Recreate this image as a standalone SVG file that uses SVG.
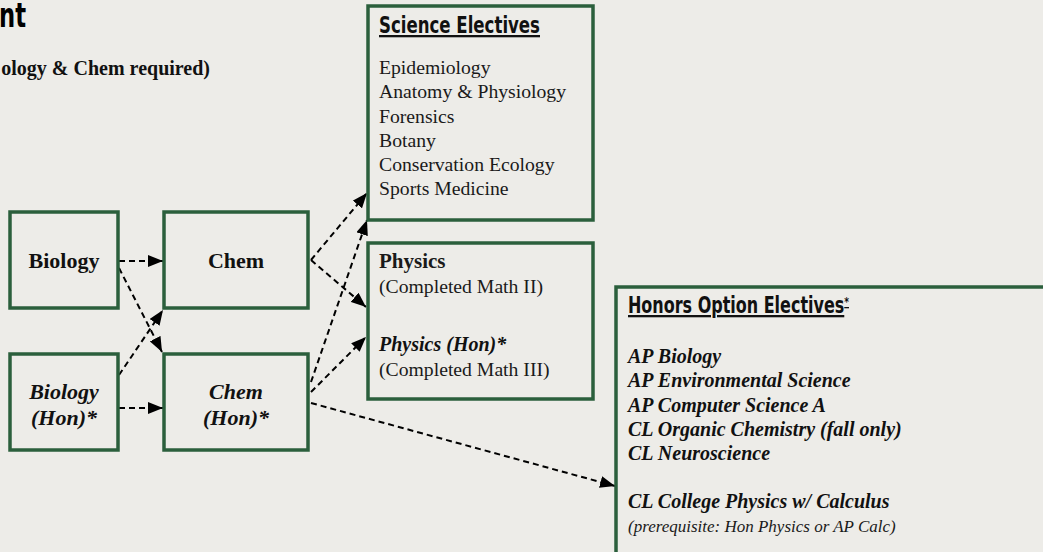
<svg xmlns="http://www.w3.org/2000/svg" width="1043" height="552" viewBox="0 0 1043 552">
<defs>
<style>
.box{fill:none;stroke:#2b5f3c;stroke-width:3.5}
.lbl{font-family:"Liberation Serif",serif;font-weight:bold;font-size:22px;fill:#111}
.it{font-style:italic}
.hdr{font-family:"DejaVu Sans Condensed","Liberation Sans",sans-serif;font-weight:bold;font-size:23px;fill:#111;text-decoration:underline}
.item{font-family:"Liberation Serif",serif;font-size:19.7px;fill:#1a1a1a}
.bold{font-weight:bold;font-size:21px}
.bi{font-family:"Liberation Serif",serif;font-size:20px;font-weight:bold;font-style:italic;fill:#111}
.conn{fill:none;stroke:#000;stroke-width:2;stroke-dasharray:6 4}
</style>
<marker id="ah" markerUnits="userSpaceOnUse" markerWidth="15" markerHeight="12" viewBox="0 0 15 12" refX="15" refY="6" orient="auto">
<path d="M0,0 L15,6 L0,12 z" fill="#000"/>
</marker>
</defs>
<rect x="0" y="0" width="1043" height="552" fill="#edece8"/>
<text x="26" y="27" text-anchor="end" textLength="27" lengthAdjust="spacingAndGlyphs" font-family="DejaVu Sans Condensed,Liberation Sans,sans-serif" font-weight="bold" font-size="33" fill="#000">nt</text>
<text x="210" y="75" text-anchor="end" font-family="Liberation Serif,serif" font-weight="bold" font-size="20" fill="#111">ology &amp; Chem required)</text>

<g id="connectors">
<line class="conn" x1="119" y1="261" x2="163" y2="261" marker-end="url(#ah)"/>
<line class="conn" x1="119" y1="268" x2="162" y2="352" marker-end="url(#ah)"/>
<line class="conn" x1="119" y1="375" x2="163" y2="310" marker-end="url(#ah)"/>
<line class="conn" x1="119" y1="408" x2="163" y2="408" marker-end="url(#ah)"/>
<line class="conn" x1="311" y1="260" x2="367" y2="193" marker-end="url(#ah)"/>
<line class="conn" x1="311" y1="260" x2="366" y2="307" marker-end="url(#ah)"/>
<line class="conn" x1="311" y1="382" x2="367" y2="220" marker-end="url(#ah)"/>
<line class="conn" x1="311" y1="392" x2="366" y2="337" marker-end="url(#ah)"/>
<line class="conn" x1="311" y1="403" x2="615" y2="486" marker-end="url(#ah)"/>
</g>

<g id="biology">
<rect class="box" x="10" y="212" width="108" height="96"/>
<text class="lbl" x="64" y="268" text-anchor="middle">Biology</text>
</g>
<g id="chem">
<rect class="box" x="164" y="212" width="144" height="96"/>
<text class="lbl" x="236" y="268" text-anchor="middle">Chem</text>
</g>
<g id="biology-hon">
<rect class="box" x="10" y="354" width="108" height="96"/>
<text class="lbl it" x="64" y="399" text-anchor="middle">Biology</text>
<text class="lbl it" x="64" y="425" text-anchor="middle">(Hon)*</text>
</g>
<g id="chem-hon">
<rect class="box" x="164" y="354" width="144" height="96"/>
<text class="lbl it" x="236" y="399" text-anchor="middle">Chem</text>
<text class="lbl it" x="236" y="425" text-anchor="middle">(Hon)*</text>
</g>
<g id="science-electives">
<rect class="box" x="368" y="6" width="225" height="214"/>
<text class="hdr" x="379" y="33" textLength="161" lengthAdjust="spacingAndGlyphs">Science Electives</text>
<text class="item" x="379" y="74">Epidemiology</text>
<text class="item" x="379" y="98">Anatomy &amp; Physiology</text>
<text class="item" x="379" y="123">Forensics</text>
<text class="item" x="379" y="147">Botany</text>
<text class="item" x="379" y="171">Conservation Ecology</text>
<text class="item" x="379" y="195">Sports Medicine</text>
</g>
<g id="physics">
<rect class="box" x="368" y="243" width="225" height="156"/>
<text class="item bold" x="379" y="268">Physics</text>
<text class="item" x="379" y="293">(Completed Math II)</text>
<text class="bi" x="379" y="351" font-size="21">Physics (Hon)*</text>
<text class="item" x="379" y="376">(Completed Math III)</text>
</g>
<g id="honors-electives">
<rect class="box" x="616" y="287" width="440" height="280"/>
<text class="hdr" x="628" y="313" textLength="221" lengthAdjust="spacingAndGlyphs">Honors Option Electives<tspan font-size="13" baseline-shift="super">*</tspan></text>
<text class="bi" x="628" y="363">AP Biology</text>
<text class="bi" x="628" y="387">AP Environmental Science</text>
<text class="bi" x="628" y="412">AP Computer Science A</text>
<text class="bi" x="628" y="436">CL Organic Chemistry (fall only)</text>
<text class="bi" x="628" y="460">CL Neuroscience</text>
<text class="bi" x="628" y="508">CL College Physics w/ Calculus</text>
<text x="628" y="532" font-family="Liberation Serif,serif" font-style="italic" font-size="17" fill="#1a1a1a">(prerequisite: Hon Physics or AP Calc)</text>
</g>
</svg>
